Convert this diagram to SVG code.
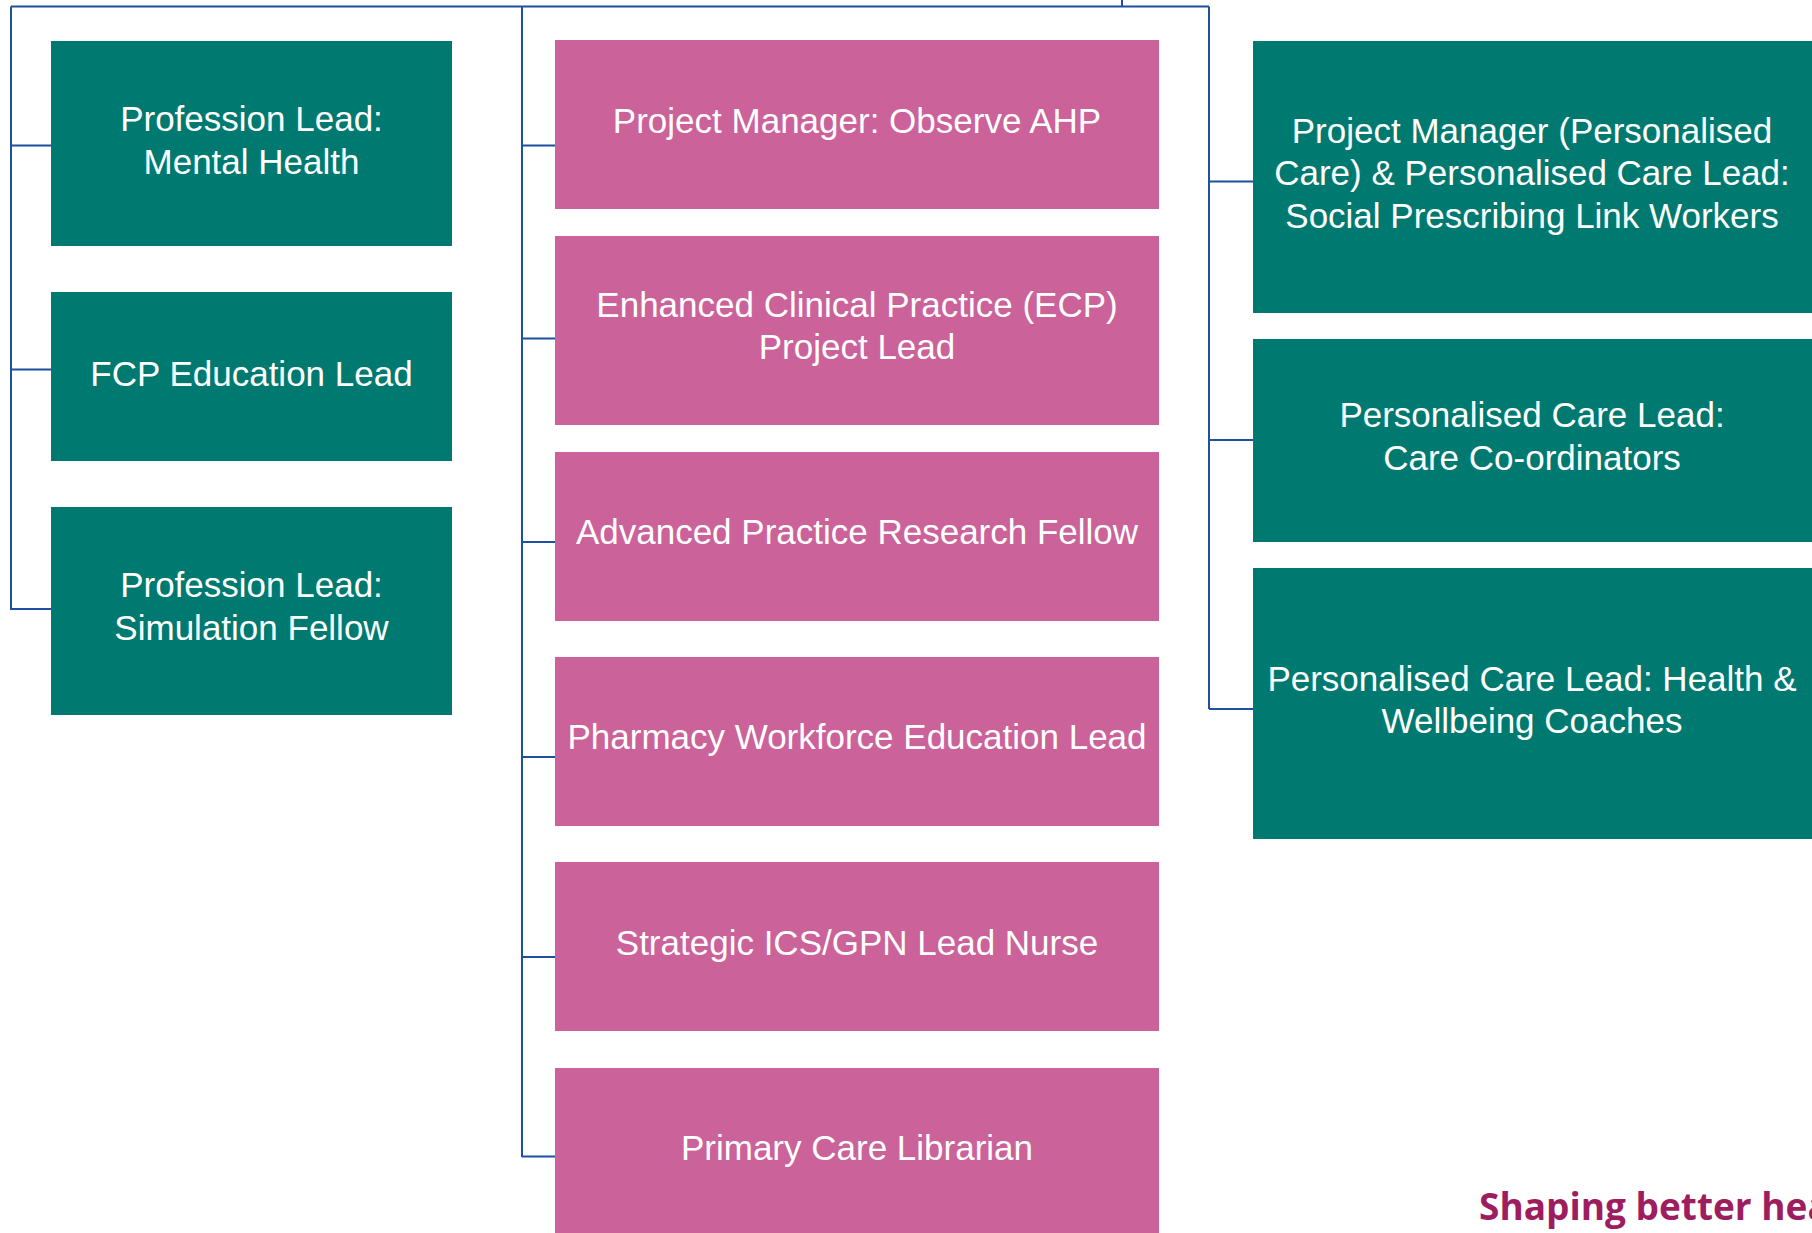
<svg xmlns="http://www.w3.org/2000/svg" width="1812" height="1233" viewBox="0 0 1812 1233">
<style>
.teal{fill:#007A71}
.pink{fill:#CB6299}
.lbl{fill:#FFFFFF;font-family:"Liberation Sans",Arial,sans-serif;font-size:35px;text-anchor:middle}
.conn{stroke:#1F4FA0;stroke-width:2;fill:none}
.brand{fill:#9E1D5E;font-family:"Open Sans","Noto Sans",sans-serif;font-weight:700;font-size:37px}
</style>
<rect width="1812" height="1233" fill="#FFFFFF"/>
<g id="connectors">
<path class="conn" d="M1122 0 V6.5 M11 6.5 H1209 M11 6.5 V610 M11 145.5 H51 M11 369.5 H51 M11 609 H51"/>
<path class="conn" d="M522 6.5 V1157 M522 145.5 H555 M522 338.5 H555 M522 542 H555 M522 757 H555 M522 957 H555 M522 1156.5 H555"/>
<path class="conn" d="M1209 6.5 V709 M1209 181.5 H1253 M1209 440 H1253 M1209 709 H1253"/>
</g>
<g id="node-l1"><rect class="teal" x="51" y="41" width="401" height="205"/><text class="lbl"><tspan x="251.5" y="131">Profession Lead:</tspan><tspan x="251.5" y="174">Mental Health</tspan></text></g>
<g id="node-l2"><rect class="teal" x="51" y="292" width="401" height="169"/><text class="lbl" x="251.5" y="386">FCP Education Lead</text></g>
<g id="node-l3"><rect class="teal" x="51" y="507" width="401" height="208"/><text class="lbl"><tspan x="251.5" y="597">Profession Lead:</tspan><tspan x="251.5" y="640">Simulation Fellow</tspan></text></g>
<g id="node-m1"><rect class="pink" x="555" y="40" width="604" height="169"/><text class="lbl" x="857" y="133">Project Manager: Observe AHP</text></g>
<g id="node-m2"><rect class="pink" x="555" y="236" width="604" height="189"/><text class="lbl"><tspan x="857" y="317">Enhanced Clinical Practice (ECP)</tspan><tspan x="857" y="359">Project Lead</tspan></text></g>
<g id="node-m3"><rect class="pink" x="555" y="452" width="604" height="169"/><text class="lbl" x="857" y="544">Advanced Practice Research Fellow</text></g>
<g id="node-m4"><rect class="pink" x="555" y="657" width="604" height="169"/><text class="lbl" x="857" y="749">Pharmacy Workforce Education Lead</text></g>
<g id="node-m5"><rect class="pink" x="555" y="862" width="604" height="169"/><text class="lbl" x="857" y="955">Strategic ICS/GPN Lead Nurse</text></g>
<g id="node-m6"><rect class="pink" x="555" y="1068" width="604" height="165"/><text class="lbl" x="857" y="1160">Primary Care Librarian</text></g>
<g id="node-r1"><rect class="teal" x="1253" y="41" width="559" height="272"/><text class="lbl"><tspan x="1532" y="143">Project Manager (Personalised</tspan><tspan x="1532" y="185">Care) &amp; Personalised Care Lead:</tspan><tspan x="1532" y="228">Social Prescribing Link Workers</tspan></text></g>
<g id="node-r2"><rect class="teal" x="1253" y="339" width="559" height="203"/><text class="lbl"><tspan x="1532" y="427">Personalised Care Lead:</tspan><tspan x="1532" y="470">Care Co-ordinators</tspan></text></g>
<g id="node-r3"><rect class="teal" x="1253" y="568" width="559" height="271"/><text class="lbl"><tspan x="1532" y="691">Personalised Care Lead: Health &amp;</tspan><tspan x="1532" y="733">Wellbeing Coaches</tspan></text></g>
<text class="brand" x="1479" y="1220">Shaping better hea</text>
</svg>
